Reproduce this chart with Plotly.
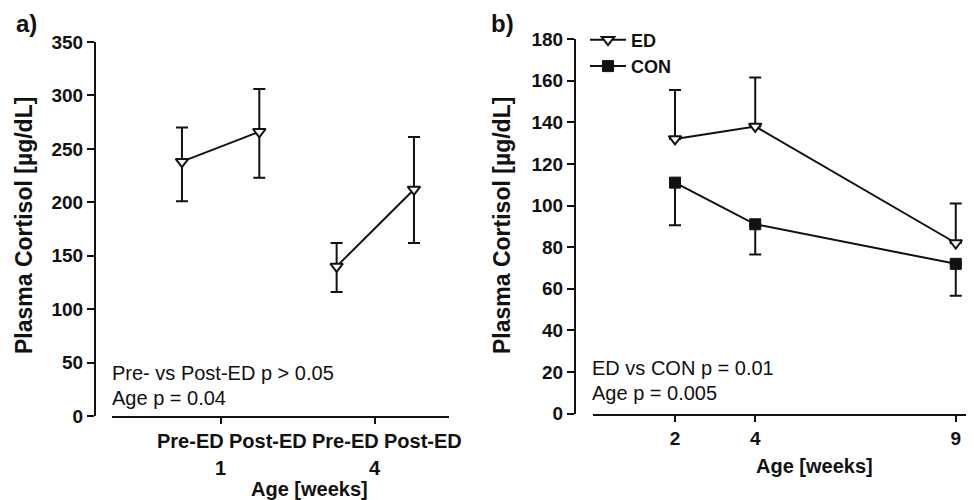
import plotly.graph_objects as go

# ---------------- data ----------------
# Panel a
a_positions = [0, 1, 2, 3]
a_labels = ["Pre-ED", "Post-ED", "Pre-ED", "Post-ED"]
a_groups = [[0, 1], [2, 3]]          # indices joined by a line (same week)
a_week_pos = [0.5, 2.5]
a_week_labels = ["1", "4"]
a_values = [238, 266, 140, 212]
a_err_plus = [32, 40, 22, 49]
a_err_minus = [37, 43, 24, 50]

# Panel b
b_weeks = [2, 4, 9]
b_ed = [132, 138, 82]
b_ed_err = [23.5, 23.5, 19]
b_con = [111, 91, 72]
b_con_err = [20.5, 14.5, 15.3]

INK = "#111111"
FONT = "Liberation Sans, Arial, sans-serif"
OFF = 8                      # default body margin of the html page
W, H = 974 - OFF, 500 - OFF


def px(x):
    return (x - OFF) / W


def py(y):
    return 1 - (y - OFF) / H


fig = go.Figure()

# Panel a traces (one line per age group)
for grp in a_groups:
    fig.add_trace(go.Scatter(
        x=[a_positions[i] for i in grp], y=[a_values[i] for i in grp],
        mode="lines+markers",
        line=dict(color=INK, width=2),
        marker=dict(symbol="triangle-down", size=11, color="white",
                    line=dict(color=INK, width=2)),
        error_y=dict(type="data", symmetric=False,
                     array=[a_err_plus[i] for i in grp],
                     arrayminus=[a_err_minus[i] for i in grp],
                     color=INK, thickness=2, width=6),
        showlegend=False, cliponaxis=False, xaxis="x", yaxis="y",
    ))

# Panel b traces
fig.add_trace(go.Scatter(
    x=b_weeks, y=b_ed, mode="lines+markers", name="ED",
    line=dict(color=INK, width=2),
    marker=dict(symbol="triangle-down", size=11, color="white",
                line=dict(color=INK, width=2)),
    error_y=dict(type="data", symmetric=False, array=b_ed_err,
                 arrayminus=[0] * len(b_ed_err), color=INK, thickness=2, width=6),
    cliponaxis=False, xaxis="x2", yaxis="y2",
))
fig.add_trace(go.Scatter(
    x=b_weeks, y=b_con, mode="lines+markers", name="CON",
    line=dict(color=INK, width=2),
    marker=dict(symbol="square", size=11, color=INK,
                line=dict(color=INK, width=1)),
    error_y=dict(type="data", symmetric=False, array=[0] * len(b_con_err),
                 arrayminus=b_con_err, color=INK, thickness=2, width=6),
    cliponaxis=False, xaxis="x2", yaxis="y2",
))

tickfont = dict(family=FONT, size=19, color=INK, weight="bold")

axis_common = dict(showgrid=False, zeroline=False, showline=True,
                   linecolor=INK, linewidth=2, ticks="outside",
                   tickcolor=INK, tickwidth=2, automargin=False)

fig.update_layout(
    width=W, height=H,
    margin=dict(l=0, r=0, t=0, b=0, pad=0, autoexpand=False),
    paper_bgcolor="white", plot_bgcolor="white",
    font=dict(family=FONT, color=INK),
    xaxis=dict(domain=[px(112), px(449)], range=[-0.905, 3.453],
               anchor="y", tickvals=a_week_pos, ticktext=["", ""],
               ticklen=6, **axis_common),
    yaxis=dict(domain=[py(416), py(42)], range=[0, 350], anchor="free",
               position=px(95), tickvals=list(range(0, 351, 50)),
               ticklen=7, tickfont=tickfont, **axis_common),
    xaxis2=dict(domain=[px(593), px(973)], range=[-0.045, 9.43],
                anchor="y2", tickvals=b_weeks,
                ticktext=[str(w) for w in b_weeks], ticklen=6,
                tickfont=tickfont, ticklabelstandoff=0, **axis_common),
    yaxis2=dict(domain=[py(413.7), py(39)], range=[0, 180], anchor="free",
                position=px(575), tickvals=list(range(0, 181, 20)),
                ticklen=7, tickfont=tickfont, **axis_common),
    legend=dict(x=px(585), y=py(21.5), xanchor="left", yanchor="top",
                bgcolor="rgba(0,0,0,0)", borderwidth=0, itemwidth=36,
                font=dict(family=FONT, size=18, color=INK, weight="bold"),
                tracegroupgap=0),
)

ann = []
bold20 = dict(family=FONT, size=20, color=INK, weight="bold")
# Category labels panel a
for pos, lab in zip(a_positions, a_labels):
    ann.append(dict(x=pos, y=py(441), xref="x", yref="paper", text=lab,
                    showarrow=False, xshift=9, xanchor="center",
                    yanchor="middle", font=bold20))
for pos, lab in zip(a_week_pos, a_week_labels):
    ann.append(dict(x=pos, y=py(468), xref="x", yref="paper", text=lab,
                    showarrow=False, xanchor="center", yanchor="middle",
                    font=bold20))
# axis titles
ann.append(dict(x=px(309), y=py(489), xref="paper", yref="paper",
                text="Age [weeks]", showarrow=False, xanchor="center",
                yanchor="middle", font=bold20))
ann.append(dict(x=px(814), y=py(466), xref="paper", yref="paper",
                text="Age [weeks]", showarrow=False, xanchor="center",
                yanchor="middle", font=bold20))
for xc in (24, 502):
    ann.append(dict(x=px(xc), y=py(226), xref="paper", yref="paper",
                    text="Plasma Cortisol [µg/dL]", showarrow=False,
                    textangle=-90, xanchor="center", yanchor="middle",
                    font=dict(family=FONT, size=23, color=INK, weight="bold")))
# panel letters
ann.append(dict(x=px(14), y=py(23), xref="paper", yref="paper", text="a)",
                showarrow=False, xanchor="left", yanchor="middle",
                font=dict(family=FONT, size=24, color=INK, weight="bold")))
ann.append(dict(x=px(489), y=py(24), xref="paper", yref="paper", text="b)",
                showarrow=False, xanchor="left", yanchor="middle",
                font=dict(family=FONT, size=24, color=INK, weight="bold")))
# stats text
stats = [
    (110, 373, "Pre- vs Post-ED p > 0.05"),
    (110, 398, "Age p = 0.04"),
    (590, 368, "ED vs CON p = 0.01"),
    (590, 393, "Age p = 0.005"),
]
for xx, yy, t in stats:
    ann.append(dict(x=px(xx), y=py(yy), xref="paper", yref="paper", text=t,
                    showarrow=False, xanchor="left", yanchor="middle",
                    font=dict(family=FONT, size=20, color=INK)))

fig.update_layout(annotations=ann)

fig.write_html("out.html")
